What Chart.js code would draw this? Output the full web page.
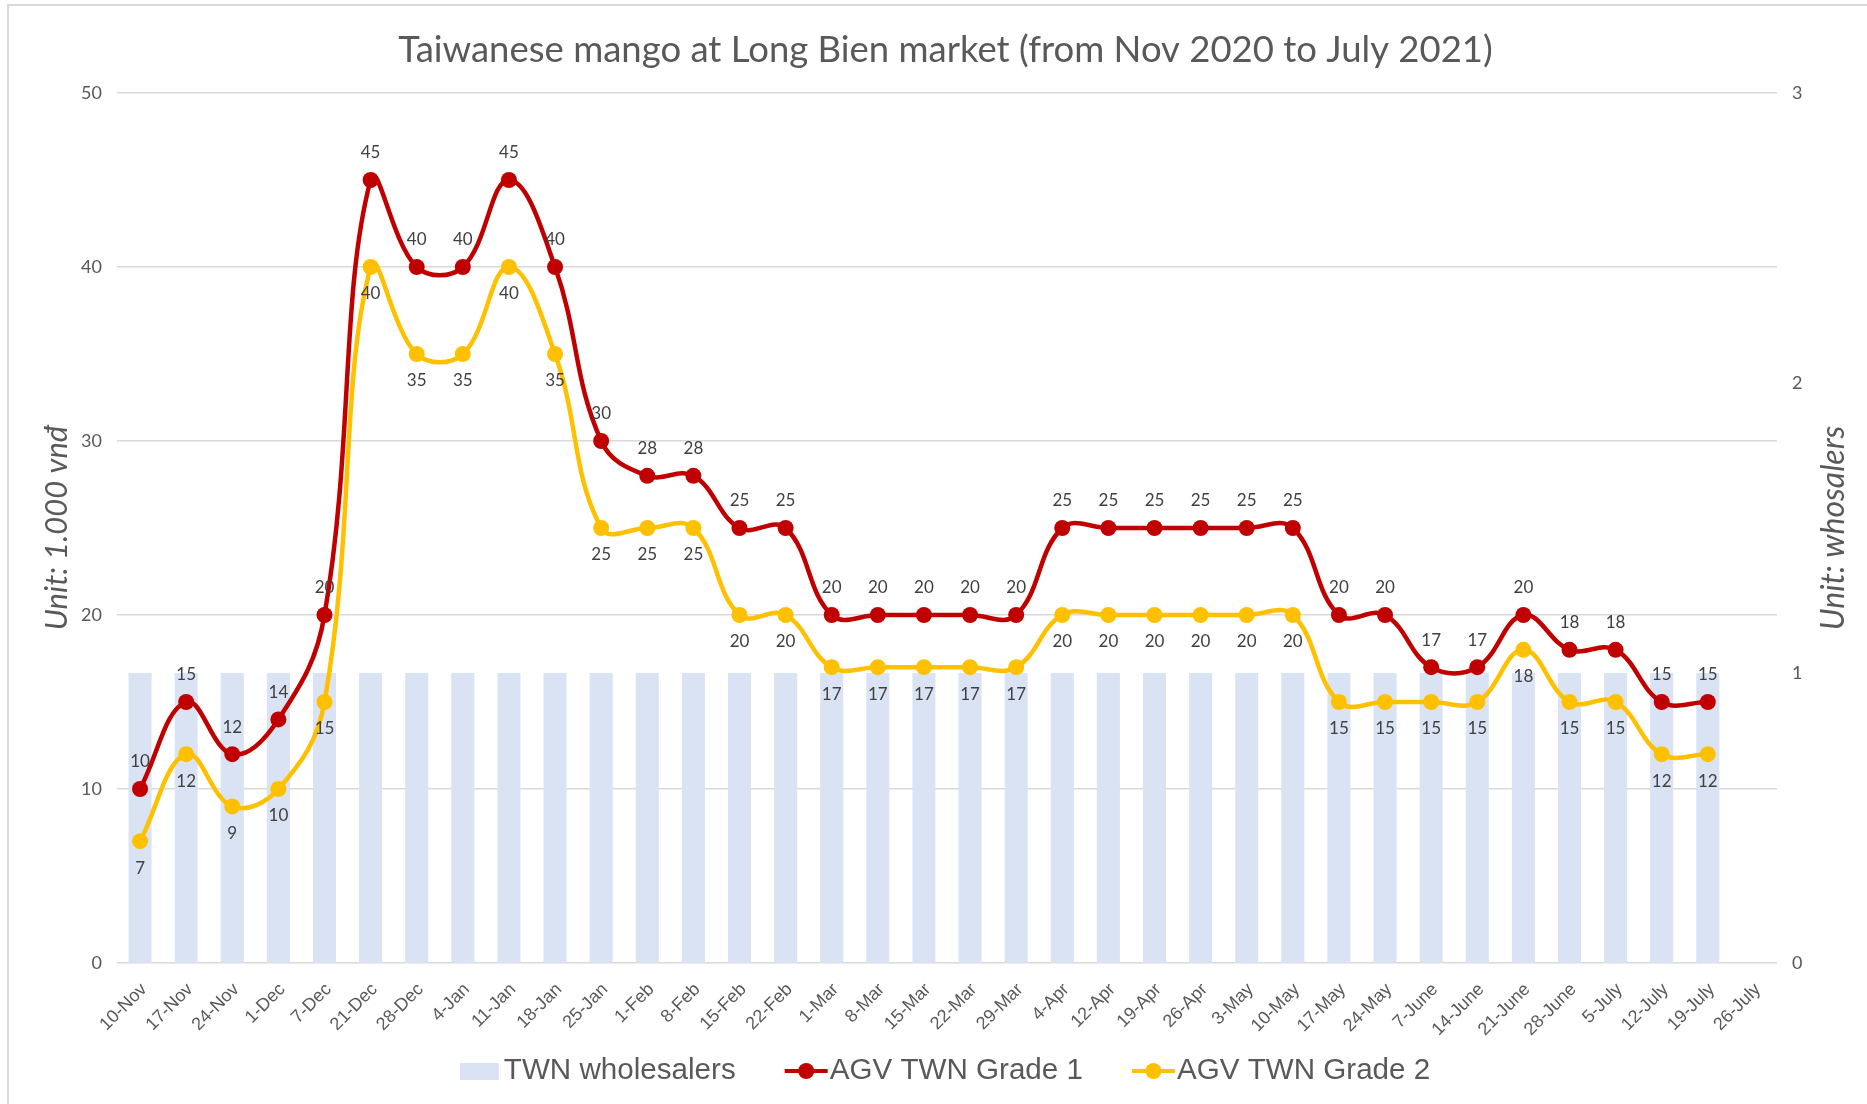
<!DOCTYPE html>
<html>
<head>
<meta charset="utf-8">
<script src="https://cdn.jsdelivr.net/npm/chart.js@4.4.1/dist/chart.umd.min.js"></script>
<style>
  html, body { margin: 0; padding: 0; background: #ffffff; }
  #wrap { position: relative; width: 1867px; height: 1104px; }
</style>
</head>
<body>
<div id="wrap"><canvas id="c" width="1867" height="1104"></canvas></div>
<script>
const categories = ["10-Nov","17-Nov","24-Nov","1-Dec","7-Dec","21-Dec","28-Dec","4-Jan","11-Jan","18-Jan","25-Jan","1-Feb","8-Feb","15-Feb","22-Feb","1-Mar","8-Mar","15-Mar","22-Mar","29-Mar","4-Apr","12-Apr","19-Apr","26-Apr","3-May","10-May","17-May","24-May","7-June","14-June","21-June","28-June","5-July","12-July","19-July","26-July"];
const wholesalers = [1,1,1,1,1,1,1,1,1,1,1,1,1,1,1,1,1,1,1,1,1,1,1,1,1,1,1,1,1,1,1,1,1,1,1,null];
const grade1 = [10,15,12,14,20,45,40,40,45,40,30,28,28,25,25,20,20,20,20,20,25,25,25,25,25,25,20,20,17,17,20,18,18,15,15,null];
const grade2 = [7,12,9,10,15,40,35,35,40,35,25,25,25,20,20,17,17,17,17,17,20,20,20,20,20,20,15,15,15,15,18,15,15,12,12,null];
const leftTicks = [0,10,20,30,40,50];
const rightTicks = [0,1,2,3];

const TITLE = "Taiwanese mango at Long Bien market (from Nov 2020 to July 2021)";
const LEFT_TITLE = "Unit: 1.000 vnđ";
const RIGHT_TITLE = "Unit: whosalers";
const C_BAR = "#DAE3F3", C_G1 = "#C00000", C_G2 = "#FFC000", C_TXT = "#595959", C_LBL = "#404040", C_GRID = "#D9D9D9";

const decor = {
  id: 'decor',
  beforeDraw(chart) {
    const ctx = chart.ctx; ctx.save();
    ctx.strokeStyle = C_GRID; ctx.lineWidth = 2;
    ctx.beginPath(); ctx.moveTo(8, 1104); ctx.lineTo(8, 5); ctx.lineTo(1867, 5); ctx.stroke();
    ctx.restore();
  },
  afterDatasetsDraw(chart) {
    const ctx = chart.ctx; ctx.save();
    ctx.font = "17px Lato"; ctx.fillStyle = C_LBL; ctx.textAlign = 'center'; ctx.textBaseline = 'middle';
    [[1, -27], [2, 27]].forEach(([di, off]) => {
      const meta = chart.getDatasetMeta(di);
      const vals = chart.data.datasets[di].data;
      meta.data.forEach((pt, i) => {
        if (vals[i] == null) return;
        ctx.fillText(String(vals[i]), pt.x, pt.y + off);
      });
    });
    ctx.restore();
  },
  afterDraw(chart) {
    const ctx = chart.ctx; const ca = chart.chartArea; ctx.save();
    // axis titles
    ctx.fillStyle = C_TXT; ctx.textAlign = 'center'; ctx.textBaseline = 'middle';
    const cy = (ca.top + ca.bottom) / 2;
    ctx.font = "italic 31px Lato";
    ctx.save(); ctx.translate(57, cy); ctx.rotate(-Math.PI / 2); ctx.fillText(LEFT_TITLE, 0, 0); ctx.restore();
    ctx.font = "italic 32px Lato";
    ctx.save(); ctx.translate(1834, cy); ctx.rotate(-Math.PI / 2); ctx.fillText(RIGHT_TITLE, 0, 0); ctx.restore();
    // legend
    const ds = chart.data.datasets;
    ctx.font = "29.6px 'Liberation Sans'"; ctx.textAlign = 'left';
    const items = [
      { text: ds[0].label, kind: 'box', color: ds[0].backgroundColor, w: 39, gap: 5 },
      { text: ds[1].label, kind: 'line', color: ds[1].borderColor, w: 43, gap: 2 },
      { text: ds[2].label, kind: 'line', color: ds[2].borderColor, w: 43, gap: 2 }
    ];
    const between = 49;
    let total = 0;
    items.forEach((it, i) => { it.tw = ctx.measureText(it.text).width; total += it.w + it.gap + it.tw + (i ? between : 0); });
    let x = 945 - total / 2; const ly = 1071;
    items.forEach((it, i) => {
      if (i) x += between;
      if (it.kind === 'box') {
        ctx.fillStyle = it.color; ctx.fillRect(x, ly - 8, it.w, 17);
      } else {
        ctx.strokeStyle = it.color; ctx.lineWidth = 4; ctx.beginPath(); ctx.moveTo(x, ly); ctx.lineTo(x + it.w, ly); ctx.stroke();
        ctx.fillStyle = it.color; ctx.beginPath(); ctx.arc(x + it.w / 2, ly, 8, 0, Math.PI * 2); ctx.fill();
      }
      x += it.w + it.gap;
      ctx.fillStyle = C_TXT; ctx.fillText(it.text, x, ly);
      x += it.tw;
    });
    ctx.restore();
  }
};

new Chart(document.getElementById('c'), {
  data: {
    labels: categories,
    datasets: [
      { type: 'bar', label: 'TWN wholesalers', data: wholesalers, yAxisID: 'y1', backgroundColor: C_BAR,
        barPercentage: 1.0, categoryPercentage: 0.5, order: 3 },
      { type: 'line', label: 'AGV TWN Grade 1', data: grade1, yAxisID: 'y', borderColor: C_G1, backgroundColor: C_G1,
        borderWidth: 4.5, pointRadius: 8, pointBorderWidth: 0, pointBackgroundColor: C_G1, tension: 0.4, fill: false, order: 1 },
      { type: 'line', label: 'AGV TWN Grade 2', data: grade2, yAxisID: 'y', borderColor: C_G2, backgroundColor: C_G2,
        borderWidth: 4.5, pointRadius: 8, pointBorderWidth: 0, pointBackgroundColor: C_G2, tension: 0.4, fill: false, order: 2 }
    ]
  },
  options: {
    responsive: false, animation: false,
    layout: { padding: { left: 24, right: 0, top: 0, bottom: 61 } },
    plugins: {
      tooltip: { enabled: false },
      legend: { display: false },
      title: { display: true, text: TITLE, color: C_TXT, font: { family: 'Lato', size: 36.5, weight: 'normal', lineHeight: 1.2 },
        padding: { top: 28, bottom: 21.2 } }
    },
    scales: {
      x: {
        grid: { display: false }, border: { display: false },
        ticks: { color: C_TXT, font: { family: 'Liberation Sans', size: 18 }, maxRotation: 45, minRotation: 45, autoSkip: false, padding: 8, labelOffset: 4 },
        afterFit(s) { s.height = 80; }
      },
      y: {
        position: 'left', min: 0, max: 50,
        afterBuildTicks(s) { s.ticks = leftTicks.map(v => ({ value: v })); },
        grid: { color: C_GRID, lineWidth: 1.5, drawTicks: false }, border: { display: false },
        ticks: { color: C_TXT, font: { family: 'Lato', size: 18 }, padding: 15 },
        afterFit(s) { s.width = 93; }
      },
      y1: {
        position: 'right', min: 0, max: 3,
        afterBuildTicks(s) { s.ticks = rightTicks.map(v => ({ value: v })); },
        grid: { display: false }, border: { display: false },
        ticks: { color: C_TXT, font: { family: 'Lato', size: 18 }, padding: 7 },
        afterFit(s) { s.width = 90; }
      }
    }
  },
  plugins: [decor]
});
</script>
</body>
</html>
